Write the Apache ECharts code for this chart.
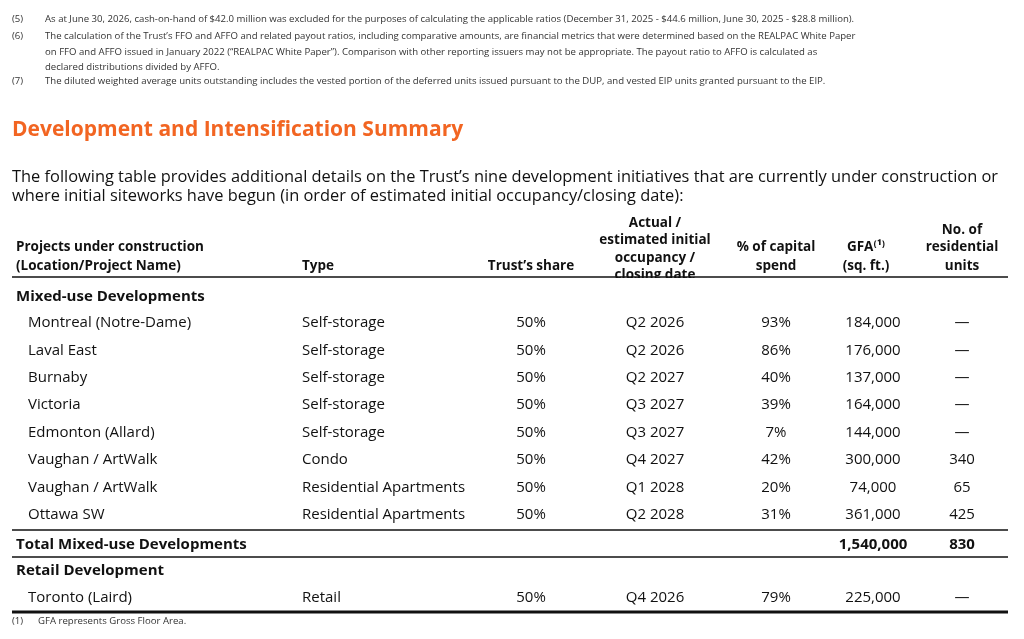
<!DOCTYPE html>
<html>
<head>
<meta charset="utf-8">
<script src="https://cdn.jsdelivr.net/npm/echarts@6/dist/echarts.min.js"></script>
<style>html,body{margin:0;background:#fff}#main{width:1024px;height:639px}</style>
</head>
<body>
<div id="main"></div>
<script>
// footnotes above the section
var topNotes = [
  ['(5)', 'As at June 30, 2026, cash-on-hand of $42.0 million was excluded for the purposes of calculating the applicable ratios (December 31, 2025 - $44.6 million, June 30, 2025 - $28.8 million).'],
  ['(6)', 'The calculation of the Trust\u2019s FFO and AFFO and related payout ratios, including comparative amounts, are financial metrics that were determined based on the REALPAC White Paper'],
  ['', 'on FFO and AFFO issued in January 2022 (\u201cREALPAC White Paper\u201d). Comparison with other reporting issuers may not be appropriate. The payout ratio to AFFO is calculated as'],
  ['', 'declared distributions divided by AFFO.'],
  ['(7)', 'The diluted weighted average units outstanding includes the vested portion of the deferred units issued pursuant to the DUP, and vested EIP units granted pursuant to the EIP.']
];
var title = 'Development and Intensification Summary';
var intro = [
  'The following table provides additional details on the Trust\u2019s nine development initiatives that are currently under construction or',
  'where initial siteworks have begun (in order of estimated initial occupancy/closing date):'
];
var mixedNames = ['Montreal (Notre-Dame)', 'Laval East', 'Burnaby', 'Victoria', 'Edmonton (Allard)', 'Vaughan / ArtWalk', 'Vaughan / ArtWalk', 'Ottawa SW'];
var mixedTypes = ['Self-storage', 'Self-storage', 'Self-storage', 'Self-storage', 'Self-storage', 'Condo', 'Residential Apartments', 'Residential Apartments'];
var mixedShare = ['50%', '50%', '50%', '50%', '50%', '50%', '50%', '50%'];
var mixedDates = ['Q2 2026', 'Q2 2026', 'Q2 2027', 'Q3 2027', 'Q3 2027', 'Q4 2027', 'Q1 2028', 'Q2 2028'];
var mixedSpend = ['93%', '86%', '40%', '39%', '7%', '42%', '20%', '31%'];
var mixedGfa = ['184,000', '176,000', '137,000', '164,000', '144,000', '300,000', '74,000', '361,000'];
var mixedUnits = ['\u2014', '\u2014', '\u2014', '\u2014', '\u2014', '340', '65', '425'];
var totalRow = ['Total Mixed-use Developments', '1,540,000', '830'];
var retailRow = ['Toronto (Laird)', 'Retail', '50%', 'Q4 2026', '79%', '225,000', '\u2014'];
var bottomNote = ['(1)', 'GFA represents Gross Floor Area.'];

var FONT = 'Open Sans';
var els = [];
function txt(x, y, s, o) {
  o = o || {};
  els.push({type: 'text', x: x, y: y, z: 1, style: {
    text: s, fill: o.fill || '#111', font: (o.bold ? 'bold ' : '') + (o.size || 15) + 'px "' + FONT + '"',
    textAlign: o.align || 'left', textVerticalAlign: 'middle'
  }});
}
function line(y, w) {
  els.push({type: 'line', z: 3, shape: {x1: 12, y1: y, x2: 1008, y2: y}, style: {stroke: '#111', lineWidth: w}});
}

var noteY = [19, 36, 52, 67, 81];
topNotes.forEach(function (n, i) {
  txt(12, noteY[i], n[0], {size: 9.6, fill: '#333'});
  txt(45, noteY[i], n[1], {size: 9.6, fill: '#333'});
});
txt(12, 130, title, {size: 21, bold: true, fill: '#f26522'});
txt(12, 177, intro[0], {size: 16.4});
txt(12, 196, intro[1], {size: 16.4});

// header
var hb = {size: 13.5, bold: true, align: 'center'};
txt(16, 247, 'Projects under construction', {size: 13.5, bold: true});
txt(16, 266, '(Location/Project Name)', {size: 13.5, bold: true});
txt(302, 266, 'Type', {size: 13.5, bold: true});
txt(531, 266, 'Trust\u2019s share', hb);
['Actual /', 'estimated initial', 'occupancy /', 'closing date'].forEach(function (s, i) {
  txt(655, 223 + i * 17.5, s, hb);
});
// cover clipped last header line
els.push({type: 'rect', z: 2, shape: {x: 580, y: 278, width: 150, height: 12}, style: {fill: '#fff'}});
txt(776, 247, '% of capital', hb);
txt(776, 266, 'spend', hb);
txt(866, 247, 'GFA\u207d\u00b9\u207e', hb);
txt(866, 266, '(sq. ft.)', hb);
txt(962, 230, 'No. of', hb);
txt(962, 247, 'residential', hb);
txt(962, 266, 'units', hb);
line(277, 1.6);

txt(16, 297, 'Mixed-use Developments', {bold: true});
function row(y, r) {
  txt(28, y, r[0]);
  txt(302, y, r[1]);
  txt(531, y, r[2], {align: 'center'});
  txt(655, y, r[3], {align: 'center'});
  txt(776, y, r[4], {align: 'center'});
  txt(873, y, r[5], {align: 'center'});
  txt(962, y, r[6], {align: 'center'});
}
mixedNames.forEach(function (n, i) {
  row(323 + i * 27.4, [n, mixedTypes[i], mixedShare[i], mixedDates[i], mixedSpend[i], mixedGfa[i], mixedUnits[i]]);
});
line(530, 1.6);
txt(16, 545, totalRow[0], {bold: true});
txt(873, 545, totalRow[1], {bold: true, align: 'center'});
txt(962, 545, totalRow[2], {bold: true, align: 'center'});
line(557, 1.6);
txt(16, 571, 'Retail Development', {bold: true});
row(598, retailRow);
line(612, 3);
txt(12, 621, bottomNote[0], {size: 9.6, fill: '#333'});
txt(38, 621, bottomNote[1], {size: 9.6, fill: '#333'});

var chart = echarts.init(document.getElementById('main'));
chart.setOption({backgroundColor: '#fff', graphic: {elements: els}});
</script>
</body>
</html>
